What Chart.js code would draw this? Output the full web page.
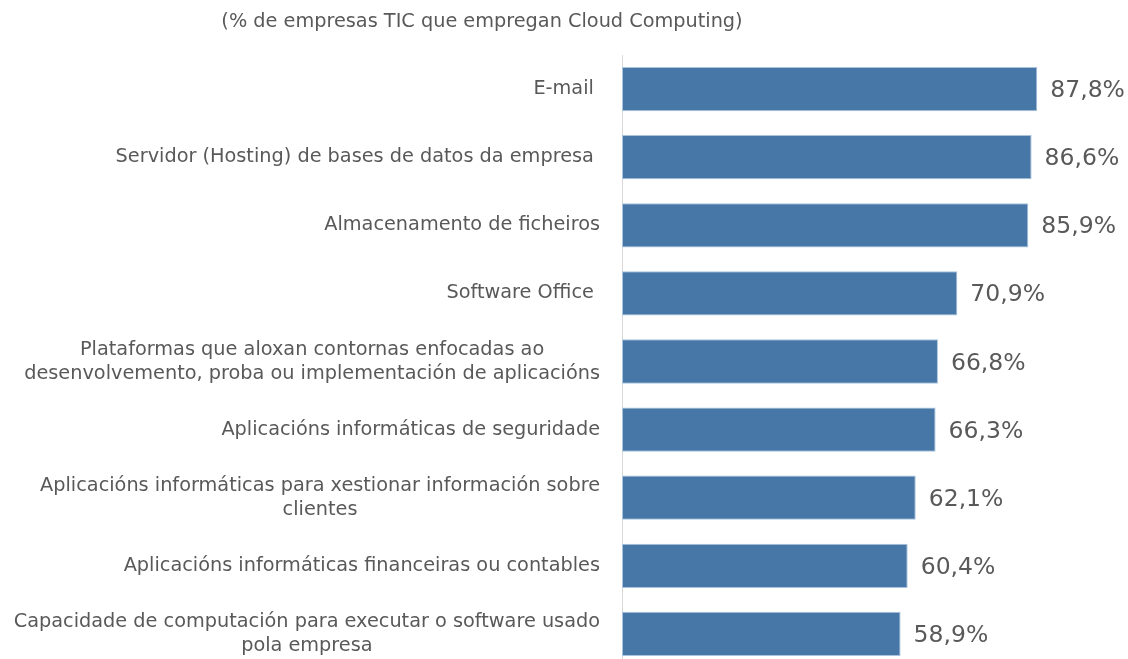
<!DOCTYPE html>
<html><head><meta charset="utf-8">
<script src="https://cdn.jsdelivr.net/npm/chart.js@4/dist/chart.umd.min.js"></script>
<style>html,body{margin:0;padding:0;background:#fff;overflow:hidden;width:1128px;height:659px}#wrap{width:1128px;height:670px;position:relative}</style>
</head><body><div id="wrap"><canvas id="c" width="1128" height="670"></canvas></div>
<script>
const chartTitle = "(% de empresas TIC que empregan Cloud Computing)";
const categories = [
  ["E-mail "],
  ["Servidor (Hosting) de bases de datos da empresa "],
  ["Almacenamento de ficheiros"],
  ["Software Office "],
  ["Plataformas que aloxan contornas enfocadas ao", "desenvolvemento, proba ou implementación de aplicacións"],
  ["Aplicacións informáticas de seguridade"],
  ["Aplicacións informáticas para xestionar información sobre", "clientes"],
  ["Aplicacións informáticas financeiras ou contables"],
  ["Capacidade de computación para executar o software usado", "pola empresa"]
];
const values = [87.8, 86.6, 85.9, 70.9, 66.8, 66.3, 62.1, 60.4, 58.9];
const valueLabels = ["87,8%", "86,6%", "85,9%", "70,9%", "66,8%", "66,3%", "62,1%", "60,4%", "58,9%"];

const FONT = '"DejaVu Sans", "Noto Sans", sans-serif';
const TEXT = '#595959';

const customText = {
  id: 'customText',
  afterDraw(chart) {
    const ctx = chart.ctx;
    const y = chart.scales.y;
    ctx.save();
    ctx.fillStyle = TEXT;
    ctx.font = '19.3px ' + FONT;
    ctx.textAlign = 'center';
    ctx.textBaseline = 'middle';
    ctx.fillText(chartTitle, 482, 22);
    const rightEdge = 600, lh = 24;
    categories.forEach((lines, i) => {
      const cy = y.getPixelForTick(i);
      const w = Math.max(...lines.map(l => ctx.measureText(l.trim()).width));
      const cx = rightEdge - w / 2;
      lines.forEach((l, j) => {
        const ly = cy + (j - (lines.length - 1) / 2) * lh;
        if (lines.length > 1) { ctx.textAlign = 'center'; ctx.fillText(l.trim(), cx, ly); }
        else { ctx.textAlign = 'right'; ctx.fillText(l, rightEdge, ly); }
      });
    });
    ctx.font = '23.5px ' + FONT;
    ctx.textAlign = 'left';
    const meta = chart.getDatasetMeta(0);
    meta.data.forEach((bar, i) => {
      ctx.fillText(valueLabels[i], bar.x + 13, bar.y + 2);
    });
    ctx.restore();
  }
};

new Chart(document.getElementById('c'), {
  type: 'bar',
  data: {
    labels: categories.map(c => c.join(' ')),
    datasets: [{
      data: values,
      backgroundColor: '#4677A7',
      borderColor: '#A9C3DD',
      borderWidth: 1,
      borderSkipped: false,
      categoryPercentage: 1,
      barPercentage: 0.65
    }]
  },
  options: {
    indexAxis: 'y',
    responsive: false,
    animation: false,
    layout: { padding: { top: 55, bottom: 2, left: 0, right: 33 } },
    plugins: { legend: { display: false }, tooltip: { enabled: false }, title: { display: false } },
    scales: {
      x: { display: false, min: 0, max: 100 },
      y: {
        grid: { display: false },
        border: { display: true, color: '#D9D9D9', width: 1 },
        ticks: { display: false },
        afterFit: s => { s.width = 622; }
      }
    }
  },
  plugins: [customText]
});
</script>
</body></html>
